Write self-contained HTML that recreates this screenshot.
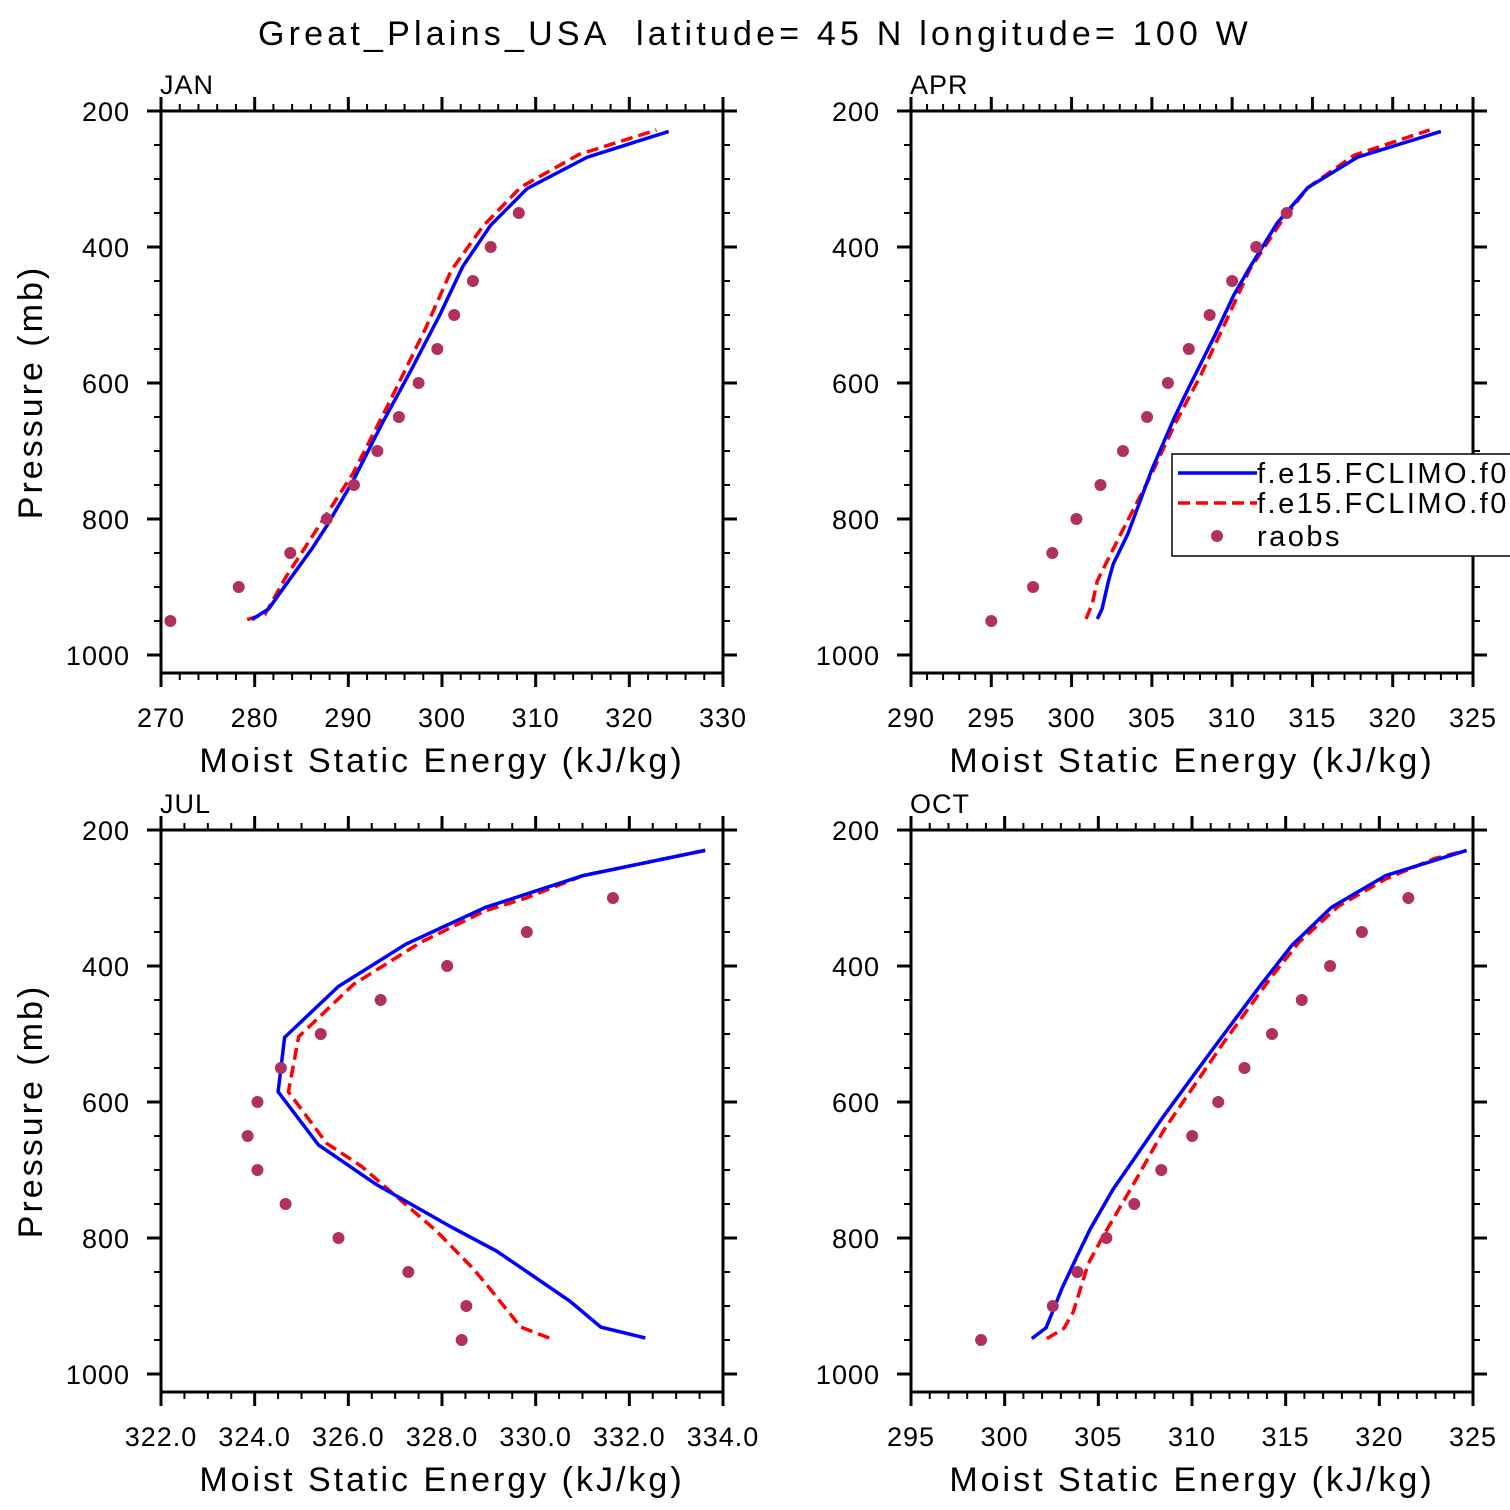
<!DOCTYPE html>
<html><head><meta charset="utf-8">
<style>
html,body{margin:0;padding:0;background:#fff;}
svg{display:block;font-family:"Liberation Sans",sans-serif;}
text{white-space:pre;}
</style></head>
<body>
<svg id="chart" width="1510" height="1510" viewBox="0 0 1510 1510" xmlns="http://www.w3.org/2000/svg">
<text x="755" y="45" font-size="34" text-anchor="middle" letter-spacing="4.2" xml:space="preserve">Great_Plains_USA  latitude= 45 N longitude= 100 W</text>
</svg>
<script>
// ---- data ----
const raobP = [950,900,850,800,750,700,650,600,550,500,450,400,350,300];

const janBlueP = [948,932,901,844,810,744,657,581,499,429,368,314,268,230];
const janBlueV = [279.7,281.5,283.1,286.1,287.7,290.5,293.7,296.7,299.8,302.2,305.2,309.1,315.5,324.2];
const janRedP = [948,940,886,818,733,625,521,434,369,312,264,228];
const janRedV = [279.2,281.1,283.3,286.5,290.5,294.5,298.2,301.0,304.4,308.4,314.6,322.9];
const janRaobV = [271.0,278.3,283.8,287.7,290.6,293.1,295.4,297.5,299.5,301.3,303.3,305.2,308.2,null];

const aprBlueP = [947,932,891,866,822,727,651,602,531,471,430,365,313,268,230];
const aprBlueV = [301.6,301.9,302.3,302.6,303.5,305.0,306.4,307.4,308.9,310.1,311.1,312.8,314.7,317.8,323.0];
const aprRedP = [947,924,891,872,825,733,662,586,510,433,365,313,265,228];
const aprRedV = [300.9,301.3,301.6,302.0,303.0,305.0,306.4,308.1,309.6,311.1,313.0,314.7,317.6,322.3];
const aprRaobV = [295.0,297.6,298.8,300.3,301.8,303.2,304.7,306.0,307.3,308.6,310.0,311.5,313.4,null];

const julBlueP = [947,931,893,849,819,784,721,663,585,505,430,368,314,267,250,230];
const julBlueV = [332.34,331.39,330.73,329.80,329.16,328.20,326.59,325.36,324.50,324.64,325.79,327.23,328.92,331.01,332.21,333.62];
const julRedP = [947,931,876,846,789,732,694,661,585,504,427,365,319,300,267,250,230];
const julRedV = [330.29,329.68,329.04,328.68,327.87,326.91,326.27,325.54,324.72,324.94,326.11,327.55,328.92,329.80,331.01,332.21,333.62];
const julRaobV = [328.42,328.52,327.28,325.79,324.66,324.06,323.85,324.06,324.56,325.41,326.69,328.11,329.81,331.65];

const octBlueP = [948,932,874,827,787,729,621,523,430,370,314,267,230];
const octBlueV = [301.45,302.21,303.06,303.86,304.56,305.77,308.48,311.09,313.61,315.32,317.43,320.34,324.66];
const octRedP = [948,933,909,838,797,721,642,512,417,365,312,272,242,230];
const octRedV = [302.25,303.16,303.66,304.46,305.26,306.87,308.48,311.70,314.21,315.71,317.82,320.34,322.94,324.66];
const octRaobV = [298.74,302.57,303.88,305.43,306.92,308.36,310.01,311.40,312.80,314.27,315.86,317.37,319.07,321.55];

const yTicks = [200,400,600,800,1000];
const janXTicks = [270,280,290,300,310,320,330];
const aprXTicks = [290,295,300,305,310,315,320,325];
const julXTicks = [322,324,326,328,330,332,334];
const octXTicks = [295,300,305,310,315,320,325];
const legendLabels = ["f.e15.FCLIMO.f09","f.e15.FCLIMO.f09","raobs"];

// ---- drawing ----
const NS = "http://www.w3.org/2000/svg";
const svg = document.getElementById("chart");
function mk(tag, attrs, parent){
  const e = document.createElementNS(NS, tag);
  for (const k in attrs) e.setAttribute(k, attrs[k]);
  (parent || svg).appendChild(e);
  return e;
}

function panel(cfg){
  const g = mk("g", {});
  
  
  const L = cfg.x0, T = cfg.y0, W = 562, H = 562;
  const pTop = 200, pBot = 200 + H * 200 / 136;
  const xs = v => L + (v - cfg.xmin) / (cfg.xmax - cfg.xmin) * W;
  const ys = p => T + (p - pTop) / (pBot - pTop) * H;

  for (let p = 200; p <= 1000; p += 50) {
    const major = p % 200 === 0, len = major ? 14 : 7, y = ys(p);
    const t1 = mk("line", {x1:L-len, y1:y, x2:L, y2:y, stroke:"#000", "stroke-width":major?3:2}, g);
    
    
    const t2 = mk("line", {x1:L+W, y1:y, x2:L+W+len, y2:y, stroke:"#000", "stroke-width":major?3:2}, g);
    
    
  }
  const ticks = cfg.xticks;
  const step = ticks[1] - ticks[0];
  const minor = step / cfg.nminor;
  for (let i = 0; i <= (cfg.xmax - cfg.xmin) / minor + 0.01; i++) {
    const v = cfg.xmin + i * minor, x = xs(v);
    const major = i % cfg.nminor === 0, len = major ? 14 : 7;
    const t1 = mk("line", {x1:x, y1:T-len, x2:x, y2:T, stroke:"#000", "stroke-width":major?3:2}, g);
    
    
    const t2 = mk("line", {x1:x, y1:T+H, x2:x, y2:T+H+len, stroke:"#000", "stroke-width":major?3:2}, g);
    
    
  }
  yTicks.forEach(p => {
    const t = mk("text", {x:L-31, y:ys(p)+10, "font-size":27, "text-anchor":"end", "letter-spacing":"1"}, g);
    
    
    t.textContent = p;
  });
  ticks.forEach(v => {
    const t = mk("text", {x:xs(v), y:T+H+54, "font-size":27, "text-anchor":"middle", "letter-spacing":"1"}, g);
    
    
    t.textContent = cfg.fmt ? v.toFixed(1) : v;
  });
  const pt = mk("text", {x:L-1, y:T-17, "font-size":27, "letter-spacing":"1"}, g);
  
  
  pt.textContent = cfg.label;
  const xt = mk("text", {x:L+W/2, y:T+H+99, "font-size":34, "text-anchor":"middle", "letter-spacing":"3"}, g);
  
  
  xt.textContent = "Moist Static Energy (kJ/kg)";
  if (cfg.ytitle) {
    const cy = T + 281;
    const yt = mk("text", {x:42, y:cy, "font-size":34, "text-anchor":"middle", "letter-spacing":"3", transform:"rotate(-90 42 "+cy+")"}, g);
    
    
    yt.textContent = "Pressure (mb)";
  }
  const clipId = "clip-" + cfg.name;
  const cp = mk("clipPath", {id:clipId}, g);
  mk("rect", {x:L, y:T, width:W, height:H}, cp);
  const pts = (P, V) => P.map((p, i) => xs(V[i]).toFixed(1) + "," + ys(p).toFixed(1)).join(" ");
  const red = mk("polyline", {points:pts(cfg.redP, cfg.redV), fill:"none", stroke:"#ff0000", "stroke-width":3.5, "stroke-dasharray":"12,6", "clip-path":"url(#"+clipId+")"}, g);
  
  
  const blue = mk("polyline", {points:pts(cfg.blueP, cfg.blueV), fill:"none", stroke:"#0000ff", "stroke-width":3.5, "clip-path":"url(#"+clipId+")"}, g);
  
  
  raobP.forEach((p, i) => {
    const v = cfg.raobV[i];
    if (v === null || v === undefined) return;
    const c = mk("circle", {cx:xs(v), cy:ys(p), r:6, fill:"#b03060"}, g);
    
    
  });
  const fr = mk("rect", {x:L, y:T, width:W, height:H, fill:"none", stroke:"#000", "stroke-width":3}, g);
  
  
}

panel({name:"jan", label:"JAN", x0:161, y0:111, xmin:270, xmax:330, xticks:janXTicks, nminor:5, ytitle:true,
  blueP:janBlueP, blueV:janBlueV, redP:janRedP, redV:janRedV, raobV:janRaobV});
panel({name:"apr", label:"APR", x0:911, y0:111, xmin:290, xmax:325, xticks:aprXTicks, nminor:5, ytitle:false,
  blueP:aprBlueP, blueV:aprBlueV, redP:aprRedP, redV:aprRedV, raobV:aprRaobV});
panel({name:"jul", label:"JUL", x0:161, y0:830, xmin:322, xmax:334, xticks:julXTicks, nminor:4, ytitle:true, fmt:true,
  blueP:julBlueP, blueV:julBlueV, redP:julRedP, redV:julRedV, raobV:julRaobV});
panel({name:"oct", label:"OCT", x0:911, y0:830, xmin:295, xmax:325, xticks:octXTicks, nminor:5, ytitle:false,
  blueP:octBlueP, blueV:octBlueV, redP:octRedP, redV:octRedV, raobV:octRaobV});

const lg = mk("g", {});


const lb = mk("rect", {x:1172, y:454, width:360, height:102, fill:"#fff", stroke:"#000", "stroke-width":1.5}, lg);


const l1 = mk("line", {x1:1178, y1:473, x2:1257, y2:473, stroke:"#0000ff", "stroke-width":3.5}, lg);


const l2 = mk("line", {x1:1178, y1:503, x2:1257, y2:503, stroke:"#ff0000", "stroke-width":3.5, "stroke-dasharray":"12,6"}, lg);


const l3 = mk("circle", {cx:1217, cy:536, r:6, fill:"#b03060"}, lg);


[483, 513, 546].forEach((y, i) => {
  const t = mk("text", {x:1257, y:y, "font-size":29, "letter-spacing":"2.5"}, lg);
  
  
  t.textContent = legendLabels[i];
});
</script>
</body></html>
